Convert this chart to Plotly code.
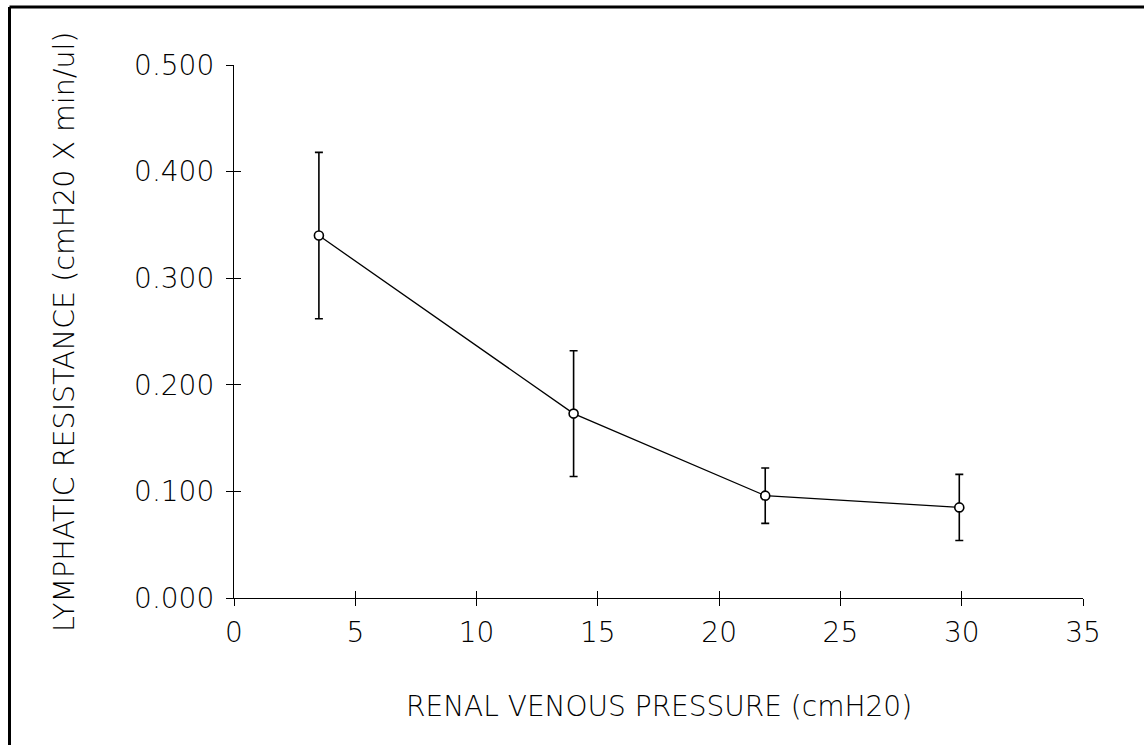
import plotly.graph_objects as go

# Data
pressure = [3.5, 14.0, 21.9, 29.9]          # renal venous pressure (cmH20)
resistance = [0.340, 0.173, 0.096, 0.085]   # lymphatic resistance
err = [0.078, 0.059, 0.026, 0.031]          # error bar half-lengths

x_ticks = [0, 5, 10, 15, 20, 25, 30, 35]
y_ticks = [0.0, 0.1, 0.2, 0.3, 0.4, 0.5]
y_tick_text = ["0.000", "0.100", "0.200", "0.300", "0.400", "0.500"]

FONT = "DejaVu Sans"
W, H = 1144, 745
L, R, T, B = 234, 61, 65, 147

fig = go.Figure()
fig.add_trace(go.Scatter(
    x=pressure, y=resistance, mode="lines+markers",
    line=dict(color="black", width=1.3),
    marker=dict(symbol="circle", size=9, color="white",
                line=dict(color="black", width=1.6)),
    error_y=dict(type="data", array=err, visible=True, color="black",
                 thickness=1.6, width=4),
    hoverinfo="skip", showlegend=False,
))
# helper trace for the overlaid axes that give the "crossing" ticks
fig.add_trace(go.Scatter(
    x=pressure, y=resistance, mode="markers", xaxis="x2", yaxis="y2",
    marker=dict(opacity=0), hoverinfo="skip", showlegend=False,
))

axis_common = dict(showgrid=False, zeroline=False, linecolor="black", linewidth=1.3,
                   tickcolor="black", tickwidth=1.3, ticklen=7)

fig.update_layout(
    width=W, height=H,
    margin=dict(l=L, r=R, t=T, b=B),
    paper_bgcolor="white", plot_bgcolor="white",
    font=dict(family=FONT, size=28, color="black", weight=200),
    xaxis=dict(range=[0, 35], tickvals=x_ticks, ticktext=[str(v) for v in x_ticks],
               ticks="outside", showline=True, ticklabelstandoff=2,
               **axis_common),
    yaxis=dict(range=[0, 0.5], tickvals=y_ticks, ticktext=y_tick_text,
               ticks="outside", showline=True, ticklabelstandoff=6,
               **axis_common),
    xaxis2=dict(range=[0, 35], tickvals=x_ticks, overlaying="x", anchor="y2",
                ticks="inside", showticklabels=False, showline=False,
                **axis_common),
    yaxis2=dict(range=[0, 0.5], tickvals=y_ticks, overlaying="y", anchor="x2",
                ticks="inside", showticklabels=False, showline=False,
                **axis_common),
)

pw, ph = W - L - R, H - T - B
def px(xp):
    return (xp - L) / pw
def py(yp):
    return (H - B - yp) / ph

fig.add_annotation(text="RENAL VENOUS PRESSURE (cmH20)", xref="paper", yref="paper",
                   x=0.5, y=py(706), xanchor="center", yanchor="middle",
                   showarrow=False, font=dict(family=FONT, size=28, weight=200))
fig.add_annotation(text="LYMPHATIC RESISTANCE (cmH20 X min/ul)", xref="paper", yref="paper",
                   x=px(64), y=py(332), xanchor="center", yanchor="middle", textangle=-90,
                   showarrow=False, font=dict(family=FONT, size=28.5, weight=200))

# frame around the figure (top and left edges visible)
fig.add_shape(type="line", xref="paper", yref="paper", x0=px(9.5), x1=px(1160),
              y0=py(7), y1=py(7), line=dict(color="black", width=3))
fig.add_shape(type="line", xref="paper", yref="paper", x0=px(9.5), x1=px(9.5),
              y0=py(7), y1=py(760), line=dict(color="black", width=3))

fig.write_html("out.html")
